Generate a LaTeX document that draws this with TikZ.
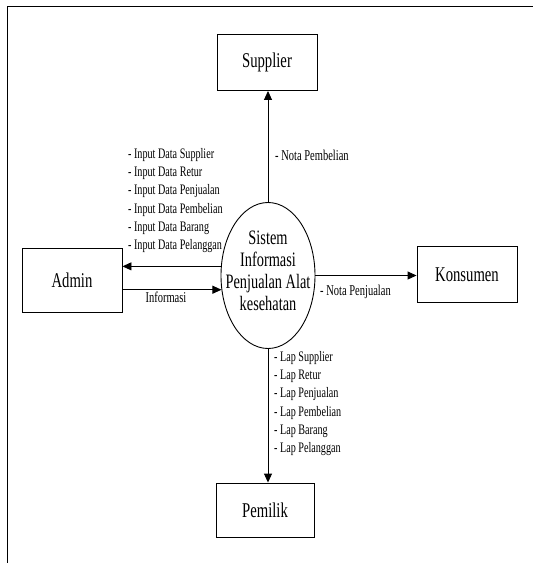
\documentclass[tikz,border=0pt]{standalone}
\usepackage{fontspec}
\setmainfont[FakeStretch=0.7]{Liberation Serif}
\usetikzlibrary{shapes.geometric,arrows.meta}

\begin{document}
\begin{tikzpicture}[x=1pt,y=-1pt,
  entity/.style={draw,line width=0.9pt,minimum width=100pt,minimum height=56pt,inner sep=0pt,
    font=\fontsize{21}{22}\selectfont},
  process/.style={draw,line width=0.9pt,ellipse,minimum width=94pt,minimum height=146pt,inner sep=0pt},
  proctext/.style={inner sep=0pt,align=center,font=\fontsize{20.5}{22}\selectfont},
  flow/.style={line width=0.9pt,-{Triangle[length=9pt,width=8pt]}},
  listtext/.style={inner sep=0pt,align=left,font=\fontsize{14.5}{18.2}\selectfont},
  flowtext/.style={inner sep=0pt,font=\fontsize{15}{16}\selectfont}]
  \useasboundingbox (0,0) rectangle (533,563);

  % page frame (top and left edges)
  \draw[line width=0.9pt] (533,6) -- (7,6) -- (7,563);

  % external entities and the process
  \node[entity] (sup) at (267,62.5) {Supplier};
  \node[entity,minimum height=64pt] (adm) at (72,280.5) {Admin};
  \node[entity] (kon) at (467,274.5) {Konsumen};
  \node[entity,minimum width=98pt,minimum height=54pt] (pem) at (265,510) {Pemilik};
  \node[process] (sys) at (268,275.5) {};
  \node[proctext,yshift=5pt] (systxt) at (sys.center) {Sistem\\Informasi\\Penjualan Alat\\kesehatan};

  % data flows
  \draw[flow] (sys.north) -- (sys.north |- sup.south);
  \draw[flow] (sys.169) -- (sys.169 -| adm.east);
  \draw[flow] (sys.197 -| adm.east) -- (sys.197);
  \draw[flow] (sys.east) -- (sys.east -| kon.west);
  \draw[flow] (sys.south) -- (sys.south |- pem.north);

  % flow labels
  \node[flowtext,anchor=west] (lnb) at (275,155) {- Nota Pembelian};
  \node[listtext,anchor=west] (lin) at (128,200.5) {- Input Data Supplier\\- Input Data Retur\\- Input Data Penjualan\\- Input Data Pembelian\\- Input Data Barang\\- Input Data Pelanggan};
  \node[flowtext] (linf) at (166,297) {Informasi};
  \node[flowtext,anchor=west] (lnj) at (320,292) {- Nota Penjualan};
  \node[listtext,anchor=west] (llap) at (274,403.5) {- Lap Supplier\\- Lap Retur\\- Lap Penjualan\\- Lap Pembelian\\- Lap Barang\\- Lap Pelanggan};
\end{tikzpicture}
\end{document}
